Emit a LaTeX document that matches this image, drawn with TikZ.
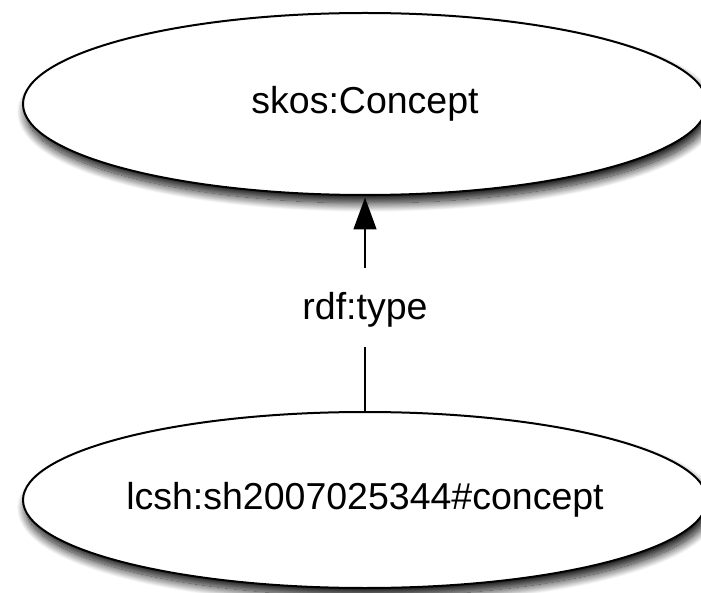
\documentclass[tikz,border=0pt]{standalone}
\usepackage{fontspec}
\setmainfont{Liberation Sans}
\usetikzlibrary{shapes.geometric,shadows.blur,arrows.meta}
\begin{document}
\begin{tikzpicture}[x=1pt,y=-1pt,
  concept/.style={ellipse, draw=black, line width=2pt, fill=white, inner sep=0pt,
    font=\fontsize{37.5}{40}\selectfont,
    blur shadow={shadow xshift=3pt, shadow yshift=-8pt, shadow blur radius=9pt, shadow opacity=95, shadow blur steps=20}},
  edgelabel/.style={fill=white, inner sep=0pt, text height=52pt, text depth=27pt,
    font=\fontsize{37.5}{40}\selectfont}]
\useasboundingbox (0,0) rectangle (701,593);
\node[concept, minimum width=684pt, minimum height=182pt] (t) at (365,104) {skos:Concept};
\node[concept, minimum width=684pt, minimum height=176pt] (b) at (365,500) {lcsh:sh2007025344\#concept};
\draw[line width=1.5pt, -{Triangle[length=32pt,width=23pt]}, shorten >=1.5pt]
  (b.north) -- node[edgelabel, pos=0.482] (l) {rdf:type} (t.south);
\end{tikzpicture}
\end{document}
